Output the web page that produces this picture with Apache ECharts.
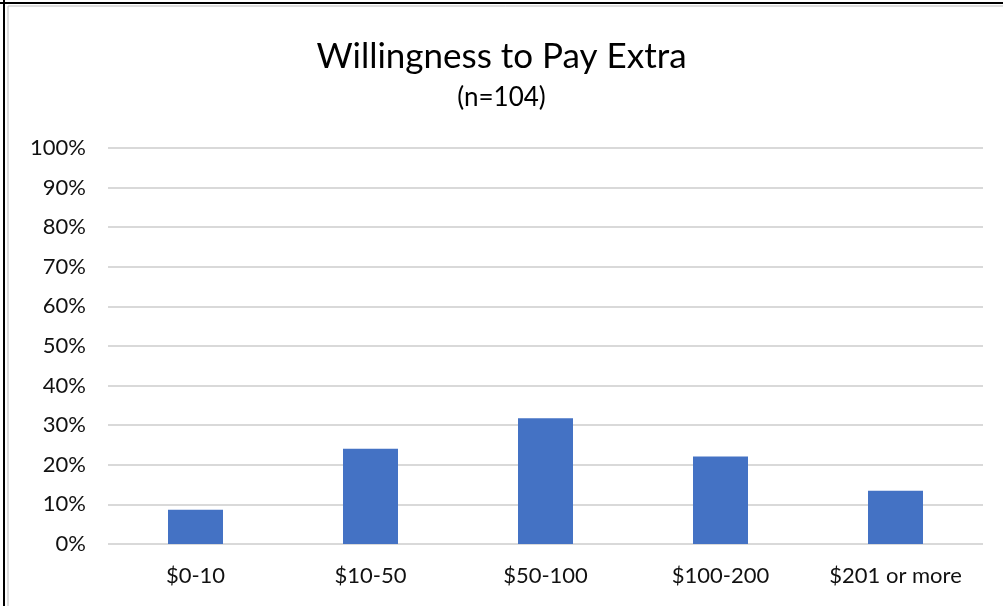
<!DOCTYPE html>
<html>
<head>
<meta charset="utf-8">
<script src="https://cdn.jsdelivr.net/npm/echarts@6/dist/echarts.min.js"></script>
<style>
html,body{margin:0;padding:0;background:#fff;}
#chart{width:1003px;height:606px;}
</style>
</head>
<body>
<div id="chart"></div>
<script>
const categories = ["$0-10", "$10-50", "$50-100", "$100-200", "$201 or more"];
const shares = [8.65, 24.04, 31.73, 22.12, 13.46];
const yTicks = { min: 0, max: 100, interval: 10 };
const titleText = "Willingness to Pay Extra";
const subtitleText = "(n=104)";

const chart = echarts.init(document.getElementById('chart'), null, {renderer: 'canvas'});
const fontFam = 'Lato, "Open Sans", sans-serif';
chart.setOption({
  animation: false,
  backgroundColor: '#fff',
  title: [{
    text: titleText,
    left: 'center',
    top: 34,
    textStyle: { fontFamily: fontFam, fontSize: 35, fontWeight: 'normal', color: '#000' }
  }, {
    text: subtitleText,
    left: 'center',
    top: 80,
    textStyle: { fontFamily: fontFam, fontSize: 26, fontWeight: 'normal', color: '#000' }
  }],
  grid: { left: 108, right: 20, top: 148, bottom: 62, containLabel: false },
  xAxis: {
    type: 'category',
    data: categories,
    axisLine: { show: false },
    axisTick: { show: false },
    axisLabel: { interval: 0, hideOverlap: false, fontFamily: fontFam, fontSize: 22, color: '#111', margin: 21 }
  },
  yAxis: {
    type: 'value',
    min: yTicks.min, max: yTicks.max, interval: yTicks.interval,
    axisLine: { show: false },
    axisTick: { show: false },
    axisLabel: { fontFamily: fontFam, fontSize: 22, color: '#111', margin: 22, formatter: '{value}%' },
    splitLine: { lineStyle: { color: '#d9d9d9', width: 2 } }
  },
  series: [{
    type: 'bar',
    data: shares,
    barWidth: 55,
    itemStyle: { color: '#4472C4' }
  }],
  graphic: [
    { type: 'line', shape: { x1: 4, y1: 0, x2: 4, y2: 606 }, style: { stroke: '#000', lineWidth: 2 } },
    { type: 'line', shape: { x1: 8, y1: 6, x2: 8, y2: 606 }, style: { stroke: '#bbb', lineWidth: 1 } },
    { type: 'line', shape: { x1: 0, y1: 3, x2: 1003, y2: 3 }, style: { stroke: '#000', lineWidth: 2 } },
    { type: 'line', shape: { x1: 8, y1: 6, x2: 1003, y2: 6 }, style: { stroke: '#bbb', lineWidth: 1 } }
  ]
});
</script>
</body>
</html>
